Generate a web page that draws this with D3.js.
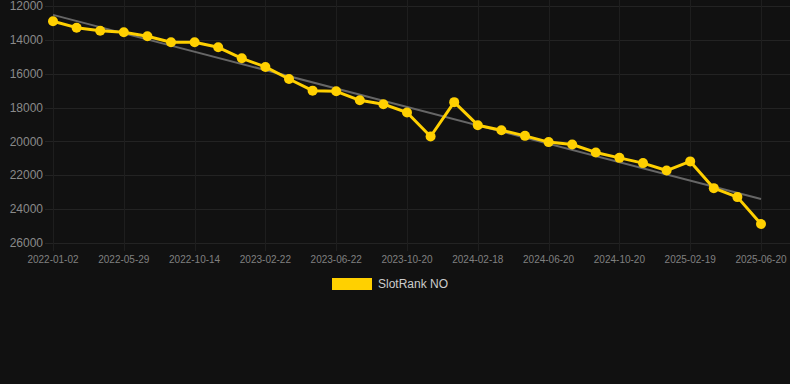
<!DOCTYPE html>
<html lang="en">
<head>
  <meta charset="UTF-8">
  <title>SlotRank NO</title>
  <script src="https://d3js.org/d3.v7.min.js"></script>
  <style>
    html, body {
      margin: 0;
      padding: 0;
      background: #111111;
    }
    body {
      font-family: "Liberation Sans", Arial, sans-serif;
    }
    svg {
      display: block;
    }
  </style>
</head>
<body>
  <svg width="790" height="384"></svg>

  <script>
    // Dates on the x axis (only every third one gets a label)
    const dates = [
      "2022-01-02", "2022-02-20", "2022-04-10", "2022-05-29", "2022-07-14", "2022-08-29",
      "2022-10-14", "2022-11-26", "2023-01-09", "2023-02-22", "2023-04-03", "2023-05-13",
      "2023-06-22", "2023-08-01", "2023-09-10", "2023-10-20", "2023-11-29", "2024-01-08",
      "2024-02-18", "2024-03-29", "2024-05-10", "2024-06-20", "2024-07-30", "2024-09-09",
      "2024-10-20", "2024-11-29", "2025-01-09", "2025-02-19", "2025-03-31", "2025-05-10",
      "2025-06-20"
    ];

    // Rank values
    const ranks = [
      12900, 13280, 13460, 13550, 13790, 14140, 14140, 14440, 15090, 15600,
      16310, 17000, 17040, 17570, 17800, 18290, 19710, 17680, 19040, 19340,
      19670, 20040, 20180, 20650, 20970, 21280, 21720, 21180, 22760, 23290,
      24880
    ];

    const yTicks = [12000, 14000, 16000, 18000, 20000, 22000, 24000, 26000];
    const seriesName = "SlotRank NO";

    const width = 790;
    const plotLeft = 53, plotRight = 761, plotTop = 6, plotBottom = 243;
    const svg = d3.select("svg");

    const x = d3.scalePoint()
                .domain(dates)
                .range([plotLeft, plotRight]);

    // reversed: better rank on top
    const y = d3.scaleLinear()
                .domain([12000, 26000])
                .range([plotTop, plotBottom]);

    const labelled = dates.filter((d, i) => i % 3 === 0);

    // grid
    svg.append("g")
       .selectAll("line")
       .data(yTicks)
       .enter()
       .append("line")
       .attr("x1", plotLeft - 8)
       .attr("x2", width)
       .attr("y1", d => Math.round(y(d)) + 0.5)
       .attr("y2", d => Math.round(y(d)) + 0.5)
       .attr("stroke", "#232323")
       .attr("stroke-width", 1);

    svg.append("g")
       .selectAll("line")
       .data(labelled)
       .enter()
       .append("line")
       .attr("x1", d => Math.round(x(d)) + 0.5)
       .attr("x2", d => Math.round(x(d)) + 0.5)
       .attr("y1", 0)
       .attr("y2", plotBottom + 8)
       .attr("stroke", "#1e1e1e")
       .attr("stroke-width", 1);

    // y tick labels
    svg.append("g")
       .selectAll("text")
       .data(yTicks)
       .enter()
       .append("text")
       .attr("x", 43)
       .attr("y", d => y(d))
       .attr("dy", "0.35em")
       .attr("text-anchor", "end")
       .attr("fill", "#8a8a8a")
       .style("font-size", "12px")
       .text(d => d);

    // x tick labels
    svg.append("g")
       .selectAll("text")
       .data(labelled)
       .enter()
       .append("text")
       .attr("x", d => x(d))
       .attr("y", 263)
       .attr("text-anchor", "middle")
       .attr("fill", "#808080")
       .style("font-size", "10px")
       .text(d => d);

    // linear trend (least squares over the index)
    const n = ranks.length;
    const mx = d3.mean(d3.range(n));
    const my = d3.mean(ranks);
    const slope = d3.sum(ranks, (v, i) => (i - mx) * (v - my)) /
                  d3.sum(d3.range(n), i => (i - mx) * (i - mx));
    const icpt = my - slope * mx;

    svg.append("line")
       .attr("x1", x(dates[0]))
       .attr("y1", y(icpt))
       .attr("x2", x(dates[n - 1]))
       .attr("y2", y(icpt + slope * (n - 1)))
       .attr("stroke", "#666666")
       .attr("stroke-width", 2);

    // series line
    const line = d3.line()
                   .x((d, i) => x(dates[i]))
                   .y(d => y(d));

    svg.append("path")
       .datum(ranks)
       .attr("d", line)
       .attr("fill", "none")
       .attr("stroke", "#ffd000")
       .attr("stroke-width", 3)
       .attr("stroke-linejoin", "round");

    svg.append("g")
       .selectAll("circle")
       .data(ranks)
       .enter()
       .append("circle")
       .attr("cx", (d, i) => x(dates[i]))
       .attr("cy", d => y(d))
       .attr("r", 5)
       .attr("fill", "#ffd000");

    // legend
    const legend = svg.append("g")
                      .attr("transform", "translate(332,278)");
    legend.append("rect")
          .attr("width", 40)
          .attr("height", 12)
          .attr("fill", "#ffd000");
    legend.append("text")
          .attr("x", 46)
          .attr("y", 6)
          .attr("dy", "0.35em")
          .attr("fill", "#cccccc")
          .style("font-size", "12px")
          .text(seriesName);
  </script>
</body>
</html>
